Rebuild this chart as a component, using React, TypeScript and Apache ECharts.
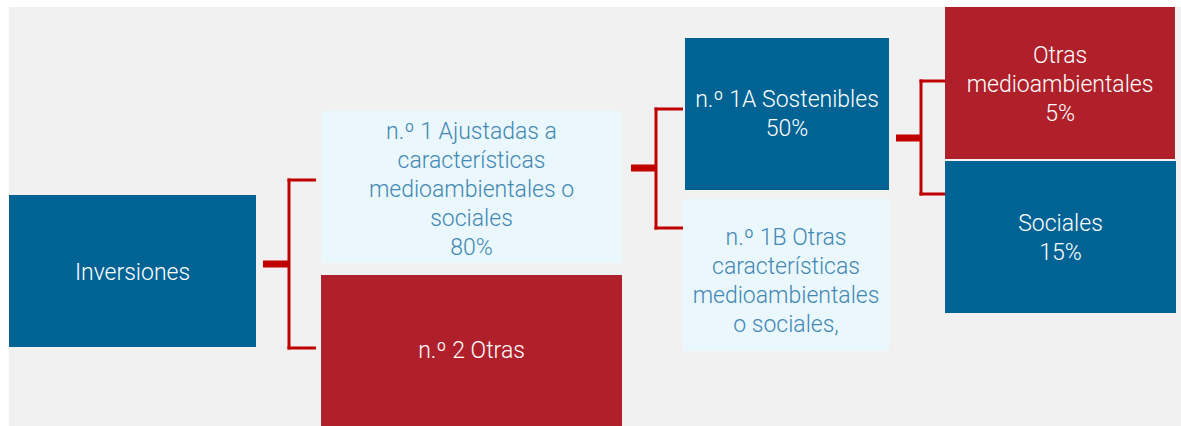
import React, { useEffect, useRef } from "react";
import * as echarts from "echarts";

// ---- data ----
const nodeLabels = [
  "Inversiones",
  "n.º 1 Ajustadas a\ncaracterísticas\nmedioambientales o\nsociales",
  "n.º 2 Otras",
  "n.º 1A Sostenibles",
  "n.º 1B Otras\ncaracterísticas\nmedioambientales\no sociales,",
  "Otras\nmedioambientales",
  "Sociales",
];
const nodeShares = ["", "80%", "", "50%", "", "5%", "15%"];
const nodeKinds = ["blue", "light", "red", "blue", "light", "red", "blue"];
// parent index -> [child indices]
const links: [number, number[]][] = [
  [0, [1, 2]],
  [1, [3, 4]],
  [3, [5, 6]],
];

// ---- layout (pixels) ----
const boxes = [
  { x: 9, y: 195, w: 247, h: 152, ty: 272 },
  { x: 321, y: 111, w: 301, h: 152, ty: 189 },
  { x: 321, y: 275, w: 301, h: 151, ty: 350 },
  { x: 685, y: 38, w: 204, h: 152, ty: 114 },
  { x: 683, y: 199, w: 206, h: 152, ty: 281 },
  { x: 945, y: 7, w: 230, h: 152, ty: 84 },
  { x: 945, y: 161, w: 231, h: 152, ty: 238 },
];
const brackets = [
  { x0: 263, xv: 289, x1: 316, ys: 264, yTop: 180, yBot: 348 },
  { x0: 631, xv: 656, x1: 683, ys: 168, yTop: 109, yBot: 228 },
  { x0: 896, xv: 921, x1: 945, ys: 138, yTop: 81, yBot: 194 },
];

const COLORS: Record<string, { fill: string; text: string }> = {
  blue: { fill: "#006394", text: "#ffffff" },
  red: { fill: "#b0202b", text: "#ffffff" },
  light: { fill: "#eaf7fc", text: "#4288b4" },
};
const LINE = "#c00000";

export default function App() {
  const ref = useRef<HTMLDivElement>(null);
  useEffect(() => {
    document.body.style.margin = "0";
    const chart = echarts.init(ref.current!, undefined, { renderer: "svg" });
    const elements: any[] = [];
    elements.push({
      type: "rect",
      shape: { x: 9, y: 7, width: 1172, height: 419 },
      style: { fill: "#f1f1f1" },
      silent: true,
    });
    links.forEach(([, children], i) => {
      const b = brackets[i];
      elements.push({
        type: "rect",
        shape: { x: b.x0, y: b.ys - 3.5, width: b.xv - b.x0, height: 7 },
        style: { fill: LINE },
      });
      elements.push({
        type: "rect",
        shape: { x: b.xv - 1.5, y: b.yTop - 1.5, width: 3, height: b.yBot - b.yTop + 3 },
        style: { fill: LINE },
      });
      [b.yTop, b.yBot].forEach((y, k) => {
        if (k < children.length)
          elements.push({
            type: "rect",
            shape: { x: b.xv - 1.5, y: y - 1.5, width: b.x1 - b.xv + 1.5, height: 3 },
            style: { fill: LINE },
          });
      });
    });
    nodeLabels.forEach((label, i) => {
      const b = boxes[i];
      const c = COLORS[nodeKinds[i]];
      elements.push({
        type: "rect",
        shape: { x: b.x, y: b.y, width: b.w, height: b.h },
        style: { fill: c.fill },
      });
      const txt = nodeShares[i] ? label + "\n" + nodeShares[i] : label;
      elements.push({
        type: "text",
        x: b.x + b.w / 2,
        y: b.ty,
        style: {
          text: txt,
          fill: c.text,
          fontFamily: "Roboto",
          fontWeight: 300,
          fontSize: 23,
          lineHeight: 29,
          align: "center",
          verticalAlign: "middle",
        },
      });
    });
    chart.setOption({ animation: false, graphic: { elements } });
    return () => chart.dispose();
  }, []);
  return <div ref={ref} style={{ width: 1181, height: 426, background: "#ffffff" }} />;
}
